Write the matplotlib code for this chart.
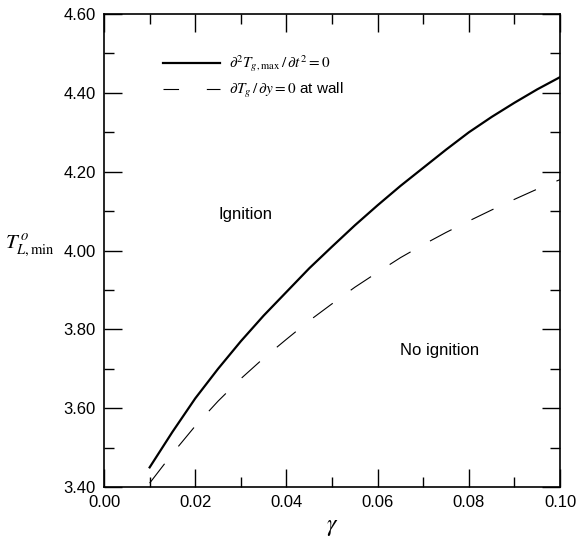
import matplotlib
matplotlib.use('Agg')
import matplotlib.pyplot as plt
from matplotlib.lines import Line2D
from matplotlib.ticker import MultipleLocator, FormatStrFormatter

plt.rcParams['font.family'] = ['Liberation Sans', 'DejaVu Sans']
plt.rcParams['mathtext.fontset'] = 'stix'

# curves
gamma = [0.010, 0.015, 0.020, 0.025, 0.030, 0.035, 0.040, 0.045, 0.050, 0.055,
         0.060, 0.065, 0.070, 0.075, 0.080, 0.085, 0.090, 0.095, 0.100]
t_inflect = [3.450, 3.540, 3.625, 3.700, 3.770, 3.835, 3.895, 3.955, 4.010, 4.064,
             4.115, 4.164, 4.210, 4.256, 4.300, 4.339, 4.375, 4.409, 4.440]
t_wall = [3.410, 3.485, 3.555, 3.618, 3.675, 3.727, 3.775, 3.822, 3.865, 3.907,
          3.945, 3.982, 4.015, 4.046, 4.075, 4.103, 4.130, 4.156, 4.180]

lab_inflect = r'$\partial^2 T_{g,\mathrm{max}}\,/\,\partial t^2 = 0$'
lab_wall = r'$\partial T_g\,/\,\partial y = 0$ at wall'

fig = plt.figure(figsize=(5.78, 5.40), dpi=100)
ax = fig.add_axes([0.180, 0.098, 0.789, 0.876])

ax.plot(gamma, t_inflect, color='black', lw=1.6)
ax.plot(gamma, t_wall, color='black', lw=0.8, dashes=(22, 20))

ax.set_xlim(0.0, 0.10)
ax.set_ylim(3.40, 4.60)
ax.xaxis.set_major_locator(MultipleLocator(0.02))
ax.xaxis.set_minor_locator(MultipleLocator(0.01))
ax.yaxis.set_major_locator(MultipleLocator(0.20))
ax.yaxis.set_minor_locator(MultipleLocator(0.10))
ax.xaxis.set_major_formatter(FormatStrFormatter('%.2f'))
ax.yaxis.set_major_formatter(FormatStrFormatter('%.2f'))
ax.tick_params(which='both', direction='in', top=True, right=True, width=1.0)
ax.tick_params(which='major', length=13, labelsize=12, pad=6)
ax.tick_params(which='minor', length=7)
for s in ax.spines.values():
    s.set_linewidth(1.2)

ax.set_xlabel(r'$\gamma$', fontsize=17, labelpad=4)
ax.set_ylabel(r'$T^{\,o}_{L,\mathrm{min}}$', fontsize=15, rotation=0, va='center')
ax.yaxis.set_label_coords(-0.162, 0.51)

ax.text(0.025, 4.08, 'Ignition', fontsize=12)
ax.text(0.065, 3.735, 'No ignition', fontsize=12)

handles = [Line2D([], [], color='black', lw=1.6),
           Line2D([], [], color='black', lw=0.8, dashes=(14, 25))]
ax.legend(handles, [lab_inflect, lab_wall], loc='upper left',
          bbox_to_anchor=(0.10, 0.945), frameon=False, fontsize=11,
          handlelength=3.7, handletextpad=0.6, labelspacing=0.45)

fig.savefig('out.png', dpi=100)
